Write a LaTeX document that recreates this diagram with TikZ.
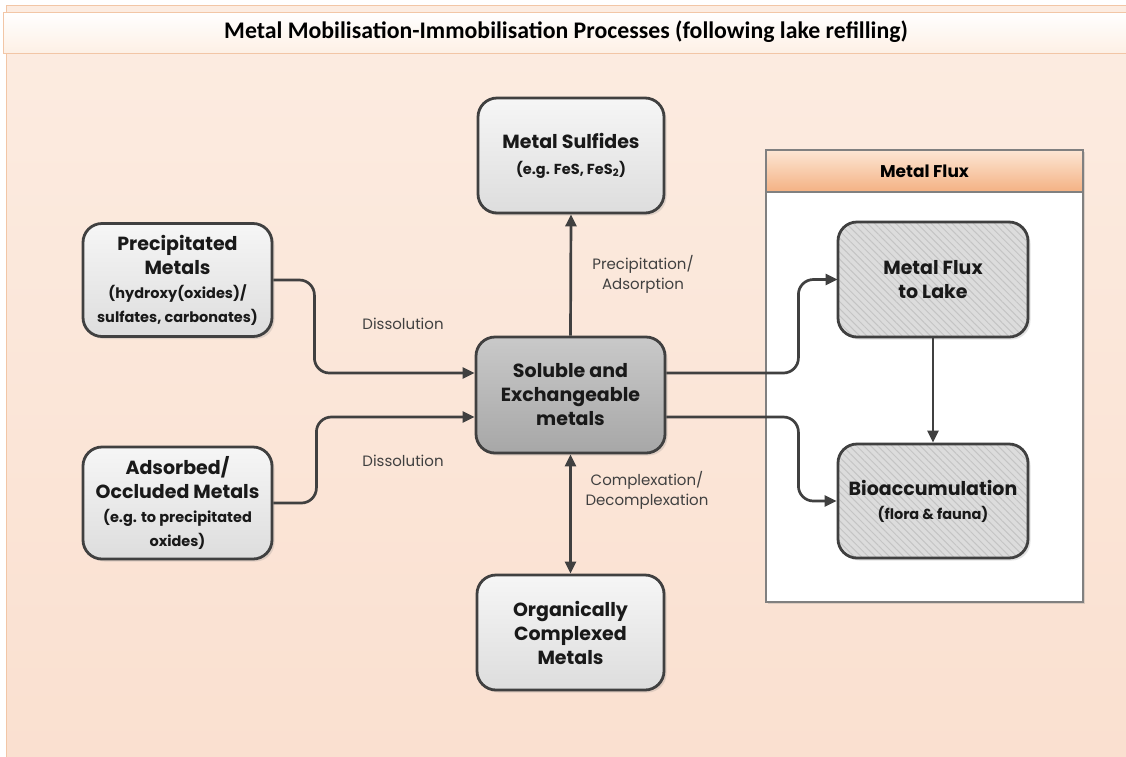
\documentclass[tikz,border=0pt]{standalone}
\usepackage{fontspec}
\setmainfont{Poppins}
\newfontfamily\titlefont{Carlito}
\usetikzlibrary{arrows.meta,shadows,patterns.meta,calc}
\definecolor{bord}{HTML}{404040}
\definecolor{peachtop}{HTML}{FCECE1}
\definecolor{peachbot}{HTML}{FAE0D0}
\definecolor{peachline}{HTML}{F2C6A6}
\definecolor{lighttop}{HTML}{F6F6F6}
\definecolor{lightbot}{HTML}{DDDDDD}
\definecolor{midtop}{HTML}{C9C9C9}
\definecolor{midbot}{HTML}{A7A7A7}
\definecolor{hatchfill}{HTML}{DCDCDC}
\definecolor{hatchline}{HTML}{C4C4C4}
\definecolor{hdrtop}{HTML}{FCE6D4}
\definecolor{hdrbot}{HTML}{F4B183}
\definecolor{frame}{HTML}{808080}
\newcommand{\mainf}{\fontsize{19}{24}\selectfont\bfseries}
\newcommand{\subf}{\fontsize{14.5}{21}\selectfont\bfseries}
\newcommand{\subr}{\fontsize{14.5}{21}\selectfont}
\begin{document}
\begin{tikzpicture}[x=1pt,y=-1pt,
  box/.style={draw=bord, line width=2.8pt, rounded corners=19pt, align=center,
    inner sep=2pt, text=black!90,
    drop shadow={opacity=0.22, shadow xshift=2.5pt, shadow yshift=-2.5pt}},
  lightbox/.style={box, shading=axis, top color=lighttop, bottom color=lightbot},
  midbox/.style={box, shading=axis, top color=midtop, bottom color=midbot},
  hatchbox/.style={box, preaction={fill=hatchfill}, pattern={Lines[angle=-45,distance=5pt,line width=1pt]}, pattern color=hatchline},
  arr/.style={draw=bord, line width=2.7pt, rounded corners=15pt, -{Triangle[length=12pt,width=11pt]}},
  darr/.style={draw=bord, line width=2.7pt, {Triangle[length=12pt,width=11pt]}-{Triangle[length=12pt,width=11pt]}},
  lbl/.style={font=\fontsize{15}{20}\selectfont, text=bord, align=center}
]
\useasboundingbox (0,0) rectangle (1126,756);
\fill[white] (0,0) rectangle (1126,756);
\shade[top color=peachtop, bottom color=peachbot, draw=peachline, line width=1pt] (6,5) rectangle (1132,762);
\shade[top color=white, bottom color=hdrtop!60, draw=peachline, line width=1pt] (3,12) rectangle (1132,53);
\node (title) at (566,32) {\titlefont\fontsize{23.8}{26}\selectfont\bfseries Metal Mobilisation-Immobilisation Processes (following lake refilling)};

% Metal flux container
\node[draw=frame, fill=white, line width=1.2pt, minimum width=317pt, minimum height=452pt, inner sep=0pt,
  drop shadow={opacity=0.25, shadow xshift=2pt, shadow yshift=-2pt}] (cont) at (924.5,376) {};
\node[draw=frame, line width=1.2pt, shading=axis, top color=hdrtop, bottom color=hdrbot,
  minimum width=317pt, minimum height=42pt, inner sep=0pt, anchor=north,
  font=\fontsize{17}{20}\selectfont\bfseries] (hdr) at (cont.north) {Metal Flux};

% boxes
\node[lightbox, minimum width=186pt, minimum height=115pt, font=\mainf] (sulf) at (571,155.5)
  {Metal Sulfides\\[2pt]{\subf (e.g. FeS, FeS\textsubscript{2})}};
\node[lightbox, minimum width=189pt, minimum height=113pt, font=\mainf] (prec) at (177.5,280)
  {Precipitated\\Metals\\{\subf (hydroxy(oxides)/}\\{\subf sulfates, carbonates)}};
\node[lightbox, minimum width=189pt, minimum height=112pt, font=\mainf] (ads) at (177.5,503)
  {Adsorbed/\\Occluded Metals\\{\subf (e.g. to precipitated}\\{\subf oxides)}};
\node[midbox, minimum width=189pt, minimum height=116pt, font=\mainf] (sol) at (570.5,395)
  {Soluble and\\Exchangeable\\metals};
\node[lightbox, minimum width=187pt, minimum height=115pt, font=\mainf] (org) at (570.5,632.5)
  {Organically\\Complexed\\Metals};
\node[hatchbox, minimum width=190pt, minimum height=115pt, font=\mainf] (lake) at (933,279.5)
  {Metal Flux\\to Lake};
\node[hatchbox, minimum width=190pt, minimum height=114pt, font=\mainf] (bio) at (933,501)
  {Bioaccumulation\\{\subr (flora \& fauna)}};

% connectors
\draw[arr] (prec.east) -- ++(41,0) |- ($(sol.west)+(0,-22)$);
\draw[arr] (ads.east) -- ++(43,0) |- ($(sol.west)+(0,22)$);
\draw[arr] (sol.north) -- (sulf.south);
\draw[darr] (sol.south) -- (org.north);
\draw[arr] ($(sol.east)+(0,-22)$) -- ++(132,0) |- (lake.west);
\draw[arr] ($(sol.east)+(0,22)$) -- ++(132,0) |- (bio.west);
\draw[arr] (lake.south) -- (bio.north);

% labels
\node[lbl] (l1) at (403,324) {Dissolution};
\node[lbl] (l2) at (403,461) {Dissolution};
\node[lbl] (l3) at (643,274) {Precipitation/\\Adsorption};
\node[lbl] (l4) at (647,490) {Complexation/\\Decomplexation};
\end{tikzpicture}
\end{document}
